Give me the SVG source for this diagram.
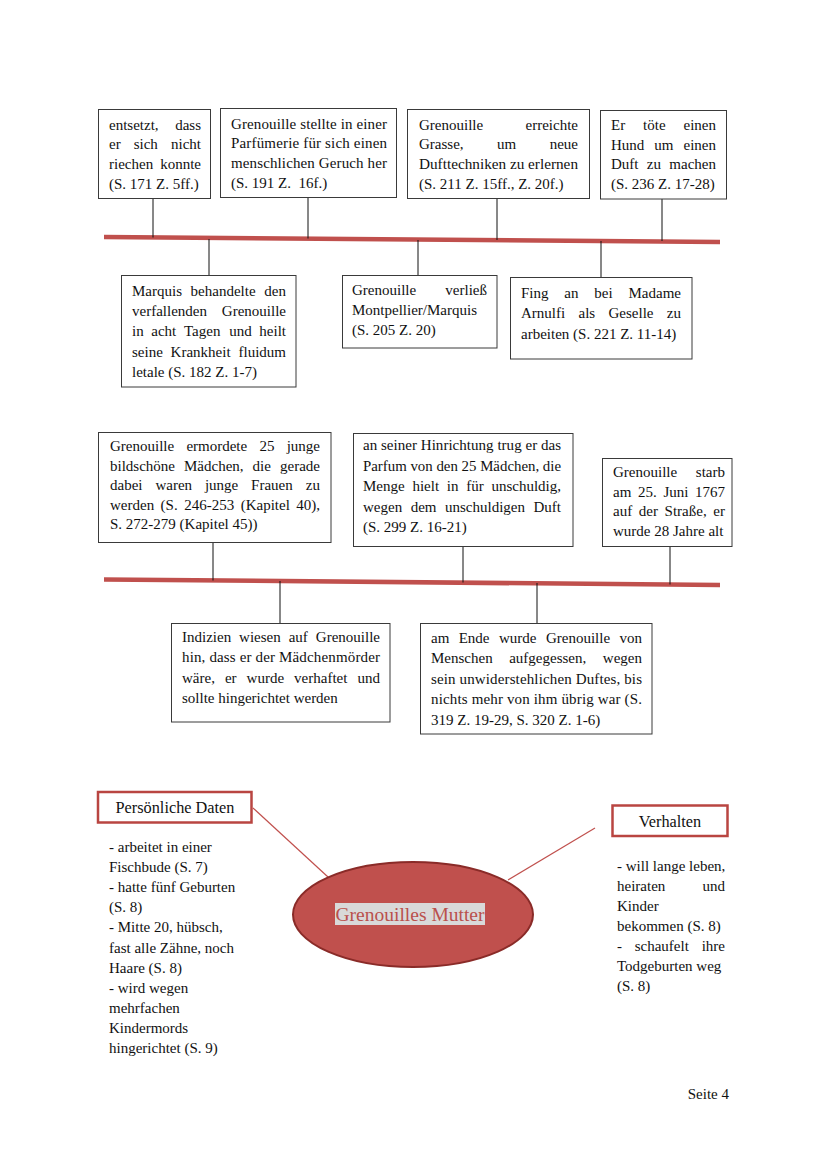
<svg xmlns="http://www.w3.org/2000/svg" width="828" height="1171" viewBox="0 0 828 1171">
<style>
.t{font-family:"Liberation Serif","Times New Roman",serif;font-size:15px;fill:#111}
.e{text-anchor:end}
.m{text-anchor:middle}
.box{fill:#fff;stroke:#3a3a3a;stroke-width:1}
.c{stroke:#111;stroke-width:1;fill:none}
.tl{stroke:#c0504d;stroke-width:4.5;fill:none}
.rb{fill:#fff;stroke:#b94541;stroke-width:2.5}
.ml{stroke:#c0504d;stroke-width:1.2;fill:none}
</style>
<rect width="828" height="1171" fill="#fff"/>

<g id="connectors">
<line class="tl" x1="104" y1="237" x2="720" y2="242"/>
<line class="tl" x1="104" y1="579.5" x2="720" y2="585"/>
<line class="c" x1="153" y1="198.5" x2="153" y2="237.5"/>
<line class="c" x1="308" y1="197.5" x2="308" y2="238.5"/>
<line class="c" x1="497" y1="198.5" x2="497" y2="240"/>
<line class="c" x1="662" y1="199" x2="662" y2="241"/>
<line class="c" x1="209" y1="239" x2="209" y2="275.5"/>
<line class="c" x1="418" y1="240" x2="418" y2="275.5"/>
<line class="c" x1="601" y1="241" x2="601" y2="277.5"/>
<line class="c" x1="213" y1="542.5" x2="213" y2="580.5"/>
<line class="c" x1="463" y1="546.5" x2="463" y2="582.5"/>
<line class="c" x1="670" y1="546.5" x2="670" y2="584.5"/>
<line class="c" x1="280" y1="581" x2="280" y2="623.5"/>
<line class="c" x1="537" y1="583" x2="537" y2="623.5"/>
<line class="ml" x1="253" y1="808" x2="328" y2="877"/>
<line class="ml" x1="595" y1="828" x2="508" y2="880"/>
</g>

<g id="e1">
<rect class="box" x="98.5" y="109.5" width="112" height="89"/>
<text class="t" x="109" y="129.5">entsetzt,</text><text class="t e" x="201" y="129.5">dass</text>
<text class="t" y="149.2"><tspan x="109">er</tspan><tspan x="133.7">sich</tspan></text><text class="t e" x="201" y="149.2">nicht</text>
<text class="t" x="109" y="168.9">riechen</text><text class="t e" x="201" y="168.9">konnte</text>
<text class="t" x="109" y="188.6">(S. 171 Z. 5ff.)</text>
</g>

<g id="e2">
<rect class="box" x="220.5" y="108.5" width="176" height="89"/>
<text class="t" x="231" y="128.5" textLength="156" lengthAdjust="spacing">Grenouille stellte in einer</text>
<text class="t" x="231" y="148.2" textLength="156" lengthAdjust="spacing">Parfümerie für sich einen</text>
<text class="t" x="231" y="167.9" textLength="156" lengthAdjust="spacing">menschlichen Geruch her</text>
<text class="t" x="231" y="187.6" xml:space="preserve">(S. 191 Z.  16f.)</text>
</g>

<g id="e3">
<rect class="box" x="407.5" y="109.5" width="182" height="89"/>
<text class="t" x="419" y="129.5">Grenouille</text><text class="t e" x="578" y="129.5">erreichte</text>
<text class="t" y="149.2"><tspan x="419">Grasse,</tspan><tspan x="497">um</tspan></text><text class="t e" x="578" y="149.2">neue</text>
<text class="t" x="419" y="168.9" textLength="159" lengthAdjust="spacingAndGlyphs">Dufttechniken zu erlernen</text>
<text class="t" x="419" y="188.6">(S. 211 Z. 15ff., Z. 20f.)</text>
</g>

<g id="e4">
<rect class="box" x="600.5" y="110.5" width="126" height="88.5"/>
<text class="t" y="130"><tspan x="611">Er</tspan><tspan x="643.1">töte</tspan></text><text class="t e" x="716" y="130">einen</text>
<text class="t" y="149.7"><tspan x="611">Hund</tspan><tspan x="654.3">um</tspan></text><text class="t e" x="716" y="149.7">einen</text>
<text class="t" y="169.4"><tspan x="611">Duft</tspan><tspan x="646.8">zu</tspan></text><text class="t e" x="716" y="169.4">machen</text>
<text class="t" x="611" y="189.1">(S. 236 Z. 17-28)</text>
</g>

<g id="e5">
<rect class="box" x="121.5" y="275.5" width="174.5" height="111.5"/>
<text class="t" y="296"><tspan x="132">Marquis</tspan><tspan x="190.6">behandelte</tspan></text><text class="t e" x="286" y="296">den</text>
<text class="t" x="132" y="316.2">verfallenden</text><text class="t e" x="286" y="316.2">Grenouille</text>
<text class="t" y="336.4"><tspan x="132">in</tspan><tspan x="151.3">acht</tspan><tspan x="184">Tagen</tspan><tspan x="229.2">und</tspan></text><text class="t e" x="286" y="336.4">heilt</text>
<text class="t" y="356.6"><tspan x="132">seine</tspan><tspan x="170.6">Krankheit</tspan></text><text class="t e" x="286" y="356.6">fluidum</text>
<text class="t" x="132" y="376.8">letale (S. 182 Z. 1-7)</text>
</g>

<g id="e6">
<rect class="box" x="342.5" y="275.5" width="154.5" height="72.5"/>
<text class="t" x="352" y="295">Grenouille</text><text class="t e" x="487" y="295">verließ</text>
<text class="t" x="352" y="315">Montpellier/Marquis</text>
<text class="t" x="352" y="335">(S. 205 Z. 20)</text>
</g>

<g id="e7">
<rect class="box" x="510.5" y="277.5" width="181.5" height="81.5"/>
<text class="t" y="298"><tspan x="521">Fing</tspan><tspan x="564.3">an</tspan><tspan x="594.3">bei</tspan></text><text class="t e" x="681" y="298">Madame</text>
<text class="t" y="318"><tspan x="521">Arnulfi</tspan><tspan x="578.5">als</tspan><tspan x="608.5">Geselle</tspan></text><text class="t e" x="681" y="318">zu</text>
<text class="t" x="521" y="338.5">arbeiten (S. 221 Z. 11-14)</text>
</g>

<g id="e8">
<rect class="box" x="98.5" y="432.5" width="232.5" height="110"/>
<text class="t" y="451"><tspan x="110">Grenouille</tspan><tspan x="186.4">ermordete</tspan><tspan x="259.4">25</tspan></text><text class="t e" x="320" y="451">junge</text>
<text class="t" y="470.5"><tspan x="110">bildschöne</tspan><tspan x="184">Mädchen,</tspan><tspan x="252.6">die</tspan></text><text class="t e" x="320" y="470.5">gerade</text>
<text class="t" y="490"><tspan x="110">dabei</tspan><tspan x="155.4">waren</tspan><tspan x="204.9">junge</tspan><tspan x="251.1">Frauen</tspan></text><text class="t e" x="320" y="490">zu</text>
<text class="t" y="509.5"><tspan x="110">werden</tspan><tspan x="160.6">(S.</tspan><tspan x="184.2">246-253</tspan><tspan x="240.7">(Kapitel</tspan></text><text class="t e" x="320" y="509.5">40),</text>
<text class="t" x="110" y="529">S. 272-279 (Kapitel 45))</text>
</g>

<g id="e9">
<rect class="box" x="353.5" y="433.5" width="219.5" height="113"/>
<text class="t" x="363" y="450" textLength="198" lengthAdjust="spacing">an seiner Hinrichtung trug er das</text>
<text class="t" x="363" y="470.5" textLength="198" lengthAdjust="spacingAndGlyphs">Parfum von den 25 Mädchen, die</text>
<text class="t" y="491"><tspan x="363">Menge</tspan><tspan x="412.4">hielt</tspan><tspan x="446.8">in</tspan><tspan x="466.2">für</tspan></text><text class="t e" x="561" y="491">unschuldig,</text>
<text class="t" y="511.5"><tspan x="363">wegen</tspan><tspan x="410.7">dem</tspan><tspan x="445">unschuldigen</tspan></text><text class="t e" x="561" y="511.5">Duft</text>
<text class="t" x="363" y="532">(S. 299 Z. 16-21)</text>
</g>

<g id="e10">
<rect class="box" x="602.5" y="458.5" width="129.5" height="88"/>
<text class="t" x="613" y="477">Grenouille</text><text class="t e" x="725" y="477">starb</text>
<text class="t" y="496.5"><tspan x="613">am</tspan><tspan x="638">25.</tspan><tspan x="663.4">Juni</tspan></text><text class="t e" x="725" y="496.5">1767</text>
<text class="t" y="516"><tspan x="613">auf</tspan><tspan x="638.8">der</tspan><tspan x="664.6">Straße,</tspan></text><text class="t e" x="725" y="516">er</text>
<text class="t" x="613" y="535.5">wurde 28 Jahre alt</text>
</g>

<g id="e11">
<rect class="box" x="171.5" y="623.5" width="218.5" height="98.5"/>
<text class="t" y="642"><tspan x="182">Indizien</tspan><tspan x="239.1">wiesen</tspan><tspan x="288.7">auf</tspan></text><text class="t e" x="380" y="642">Grenouille</text>
<text class="t" x="182" y="662.3" textLength="198" lengthAdjust="spacing">hin, dass er der Mädchenmörder</text>
<text class="t" y="682.6"><tspan x="182">wäre,</tspan><tspan x="224.9">er</tspan><tspan x="246.6">wurde</tspan><tspan x="294.1">verhaftet</tspan></text><text class="t e" x="380" y="682.6">und</text>
<text class="t" x="182" y="703">sollte hingerichtet werden</text>
</g>

<g id="e12">
<rect class="box" x="420.5" y="623.5" width="231.5" height="110.5"/>
<text class="t" y="642.5"><tspan x="431">am</tspan><tspan x="458.7">Ende</tspan><tspan x="498.9">wurde</tspan><tspan x="545.9">Grenouille</tspan></text><text class="t e" x="642" y="642.5">von</text>
<text class="t" y="663.1"><tspan x="431">Menschen</tspan><tspan x="509.2">aufgegessen,</tspan></text><text class="t e" x="642" y="663.1">wegen</text>
<text class="t" x="431" y="683.7" textLength="211" lengthAdjust="spacing">sein unwiderstehlichen Duftes, bis</text>
<text class="t" x="431" y="704.3" textLength="211" lengthAdjust="spacing">nichts mehr von ihm übrig war (S.</text>
<text class="t" x="431" y="724.9">319 Z. 19-29, S. 320 Z. 1-6)</text>
</g>

<g id="mutter">
<ellipse cx="413" cy="914.5" rx="120" ry="52.5" fill="#c0504d" stroke="#8a2b28" stroke-width="2"/>
<rect x="335" y="903" width="150" height="22" fill="#d9d9d9"/>
<text class="t m" x="410" y="921" style="font-size:19.5px;fill:#b9504c">Grenouilles Mutter</text>
</g>

<g id="persoenlich">
<rect class="rb" x="98" y="792" width="153.5" height="30.5"/>
<text class="t m" x="175" y="813" style="font-size:16.3px">Persönliche Daten</text>
<text class="t" x="109" y="852">- arbeitet in einer</text>
<text class="t" x="109" y="872.1">Fischbude (S. 7)</text>
<text class="t" x="109" y="892.2">- hatte fünf Geburten</text>
<text class="t" x="109" y="912.3">(S. 8)</text>
<text class="t" x="109" y="932.4">- Mitte 20, hübsch,</text>
<text class="t" x="109" y="952.5">fast alle Zähne, noch</text>
<text class="t" x="109" y="972.6">Haare (S. 8)</text>
<text class="t" x="109" y="992.7">- wird wegen</text>
<text class="t" x="109" y="1012.8">mehrfachen</text>
<text class="t" x="109" y="1032.9">Kindermords</text>
<text class="t" x="109" y="1053">hingerichtet (S. 9)</text>
</g>

<g id="verhalten">
<rect class="rb" x="612.5" y="805.5" width="115" height="30.5"/>
<text class="t m" x="670" y="827" style="font-size:16.3px">Verhalten</text>
<text class="t" x="617" y="871">- will lange leben,</text>
<text class="t" x="617" y="891">heiraten</text><text class="t e" x="725" y="891">und</text>
<text class="t" x="617" y="911">Kinder</text>
<text class="t" x="617" y="931">bekommen (S. 8)</text>
<text class="t" y="951"><tspan x="617">-</tspan><tspan x="634.7">schaufelt</tspan></text><text class="t e" x="725" y="951">ihre</text>
<text class="t" x="617" y="971">Todgeburten weg</text>
<text class="t" x="617" y="991">(S. 8)</text>
</g>

<text class="t e" x="729" y="1099">Seite 4</text>
</svg>
